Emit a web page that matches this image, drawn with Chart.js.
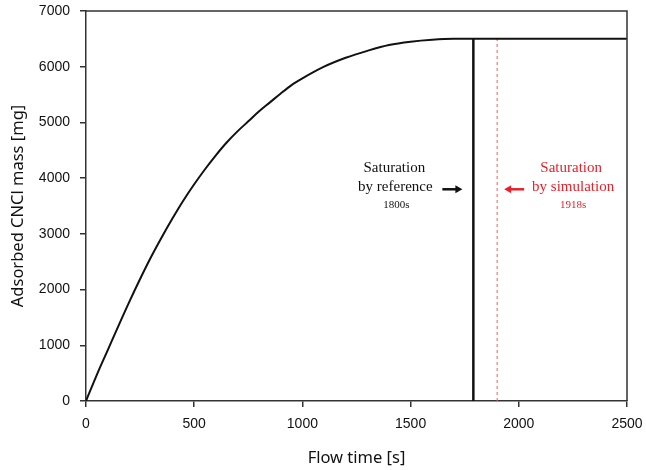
<!DOCTYPE html>
<html>
<head>
<meta charset="utf-8">
<script src="https://cdn.jsdelivr.net/npm/chart.js@4.4.1/dist/chart.umd.min.js"></script>
<style>
  html, body { margin: 0; padding: 0; background: #fff; }
  #wrap { width: 646px; height: 470px; }
</style>
</head>
<body>
<div id="wrap"><canvas id="chart"></canvas></div>
<script>
// values
const flowTime = [0, 50, 100, 150, 200, 250, 300, 350, 400, 450, 500, 550, 600, 650, 700, 750,
  800, 850, 900, 950, 1000, 1100, 1200, 1300, 1400, 1500, 1600, 1700, 1800, 2000, 2500];
const adsorbedMass = [0, 470, 910, 1350, 1780, 2190, 2580, 2940, 3280, 3600, 3890, 4160, 4410, 4640, 4840, 5020,
  5200, 5360, 5520, 5670, 5790, 6000, 6160, 6285, 6390, 6450, 6485, 6500, 6500, 6500, 6500];

const referenceTime = 1790;   // drawn position of the "1800s" line
const simulationTime = 1900;  // drawn position of the "1918s" line
const saturationMass = 6500;

const xTickMax = 2500, xTickStep = 500;
const yTickMax = 7000, yTickStep = 1000;

const curve = flowTime.map((t, i) => ({ x: t, y: adsorbedMass[i] }));

const frameAndNotes = {
  id: "frameAndNotes",
  afterDatasetsDraw(chart) {
    const { ctx, chartArea, scales } = chart;
    ctx.save();
    // top and right frame lines
    ctx.strokeStyle = "#333";
    ctx.lineWidth = 1.5;
    ctx.beginPath();
    ctx.moveTo(chartArea.left, chartArea.top);
    ctx.lineTo(chartArea.right, chartArea.top);
    ctx.lineTo(chartArea.right, chartArea.bottom);
    ctx.stroke();

    const refPx = scales.x.getPixelForValue(referenceTime);
    const simPx = scales.x.getPixelForValue(simulationTime);
    const arrowY = scales.y.getPixelForValue(3800);

    function arrow(x1, x2, y, color) {
      const dir = Math.sign(x2 - x1);
      ctx.strokeStyle = color;
      ctx.fillStyle = color;
      ctx.lineWidth = 2.5;
      ctx.beginPath();
      ctx.moveTo(x1, y);
      ctx.lineTo(x2 - dir * 5, y);
      ctx.stroke();
      ctx.beginPath();
      ctx.moveTo(x2, y);
      ctx.lineTo(x2 - dir * 7, y - 4);
      ctx.lineTo(x2 - dir * 7, y + 4);
      ctx.closePath();
      ctx.fill();
    }

    ctx.textAlign = "center";
    ctx.textBaseline = "middle";

    // reference note
    ctx.fillStyle = "#111";
    ctx.font = "15px 'Liberation Serif'";
    ctx.fillText("Saturation", refPx - 79, arrowY - 21);
    ctx.fillText("by reference", refPx - 78, arrowY - 2);
    ctx.font = "11px 'Liberation Serif'";
    ctx.fillText("1800s", refPx - 77, arrowY + 16);
    arrow(refPx - 31, refPx - 11, arrowY, "#111");

    // simulation note
    ctx.fillStyle = "#e8202a";
    ctx.font = "15px 'Liberation Serif'";
    ctx.fillText("Saturation", simPx + 74, arrowY - 21);
    ctx.fillText("by simulation", simPx + 76, arrowY - 2);
    ctx.font = "11px 'Liberation Serif'";
    ctx.fillText("1918s", simPx + 76, arrowY + 16);
    arrow(simPx + 27, simPx + 7, arrowY, "#e8202a");

    ctx.restore();
  }
};

new Chart(document.getElementById("chart"), {
  type: "line",
  data: {
    datasets: [
      {
        label: "Adsorbed mass",
        data: curve,
        borderColor: "#111",
        borderWidth: 2,
        pointRadius: 0,
        cubicInterpolationMode: "monotone",
        fill: false
      },
      {
        label: "Saturation by reference",
        data: [{ x: referenceTime, y: 0 }, { x: referenceTime, y: saturationMass }],
        borderColor: "#111",
        borderWidth: 2.5,
        pointRadius: 0
      },
      {
        label: "Saturation by simulation",
        data: [{ x: simulationTime, y: 0 }, { x: simulationTime, y: saturationMass }],
        borderColor: "#f55",
        borderWidth: 1,
        borderDash: [3, 3],
        pointRadius: 0
      }
    ]
  },
  options: {
    responsive: true,
    maintainAspectRatio: false,
    animation: false,
    layout: { padding: { left: 0, right: 19, top: 11, bottom: 0 } },
    plugins: { legend: { display: false }, tooltip: { enabled: false } },
    scales: {
      x: {
        type: "linear",
        min: 0,
        max: xTickMax,
        afterFit: (s) => { s.height = 69; s.paddingLeft = 0; s.paddingRight = 0; },
        ticks: {
          stepSize: xTickStep,
          color: "#111",
          padding: 9,
          maxRotation: 0,
          callback: (v) => String(v),
          font: { family: "'Liberation Sans', Arial", size: 14 }
        },
        grid: { drawOnChartArea: false, tickLength: 6, color: "#333", lineWidth: 1.5 },
        border: { color: "#333", width: 1.5 },
        title: {
          display: true,
          text: "Flow time [s]",
          color: "#111",
          font: { family: "'Noto Sans'", size: 16.5 },
          padding: { top: 0, bottom: 2 }
        }
      },
      y: {
        min: 0,
        max: yTickMax,
        afterFit: (s) => { s.width = 86; s.paddingTop = 0; s.paddingBottom = 0; },
        ticks: {
          stepSize: yTickStep,
          color: "#111",
          padding: 10,
          callback: (v) => String(v),
          font: { family: "'Liberation Sans', Arial", size: 14 }
        },
        grid: { drawOnChartArea: false, tickLength: 6, color: "#333", lineWidth: 1.5 },
        border: { color: "#333", width: 1.5 },
        title: {
          display: true,
          text: "Adsorbed CNCl mass [mg]",
          color: "#111",
          font: { family: "'Noto Sans'", size: 16.5 },
          padding: { top: 8, bottom: 0 }
        }
      }
    }
  },
  plugins: [frameAndNotes]
});
</script>
</body>
</html>
